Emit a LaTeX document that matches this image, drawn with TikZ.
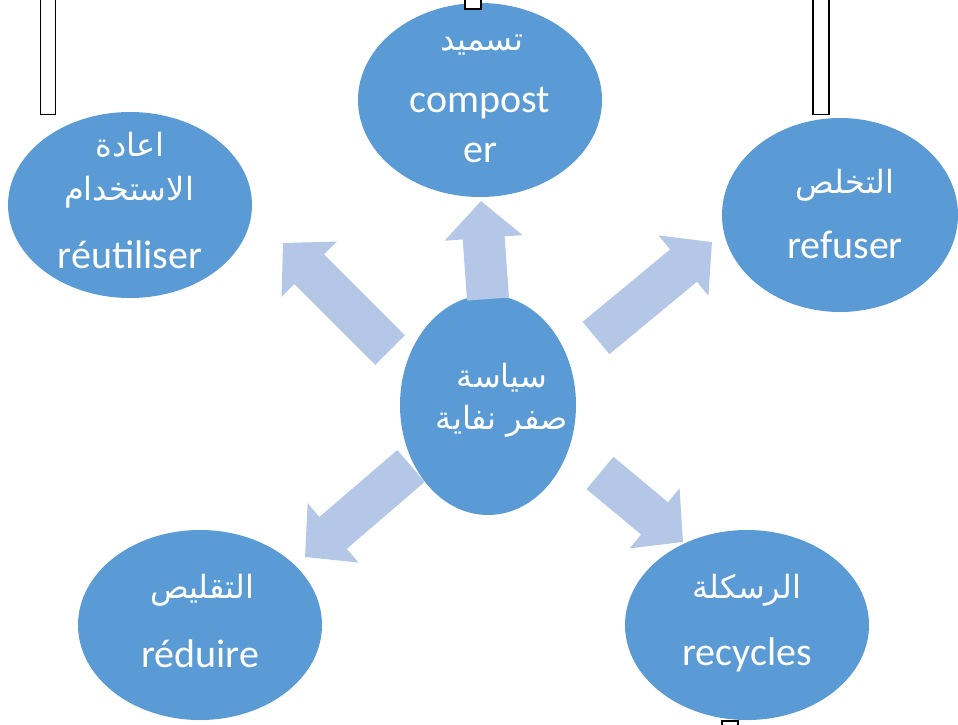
\documentclass[tikz,border=0pt]{standalone}
\usepackage{fontspec}
\setmainfont{Carlito}
\newfontfamily\arabicfont[Script=Arabic]{DejaVu Sans}
\TeXXeTstate=1
\usetikzlibrary{shapes.geometric,arrows.meta}
\definecolor{ellc}{HTML}{5B9BD5}
\definecolor{arrc}{HTML}{B4C7E7}
\tikzset{
  ell/.style={ellipse, fill=ellc, draw=none, inner sep=0pt, minimum width=244pt, minimum height=190pt},
  lat/.style={text=white, font=\fontsize{40}{40}\selectfont, inner sep=0pt},
  ara/.style={text=white, font=\arabicfont\fontsize{32}{32}\selectfont, inner sep=0pt},
  blk/.style={draw=arrc, line width=42pt, -{Triangle[length=37pt,width=76pt]}},
  bar/.style={draw=black, line width=1.6pt, fill=white, inner sep=0pt}
}
\begin{document}
\begin{tikzpicture}[x=1pt,y=-1pt]
\useasboundingbox (0,0) rectangle (958,725);
% ellipses
\node[ell, minimum width=176pt, minimum height=220pt] (c) at (488,405) {};
\node[ell, minimum height=194pt] (top) at (480,100) {};
\node[ell, minimum height=186pt] (left) at (130,205) {};
\node[ell, minimum width=236pt, minimum height=194pt] (right) at (840,215) {};
\node[ell] (bl) at (200,625) {};
\node[ell] (br) at (747,625) {};
% arrow ends
\coordinate (a1s) at (390,350); \coordinate (a1e) at (283,243);
\coordinate (a2s) at (488,299); \coordinate (a2e) at (481,201);
\coordinate (a3s) at (596,338); \coordinate (a3e) at (712,242);
\coordinate (a4s) at (411,466); \coordinate (a4e) at (305,557);
\coordinate (a5s) at (600,473); \coordinate (a5e) at (683,542);
\draw[blk] (a1s) -- (a1e);
\draw[blk] (a2s) -- (a2e);
\draw[blk] (a3s) -- (a3e);
\draw[blk] (a4s) -- (a4e);
\draw[blk] (a5s) -- (a5e);
% texts
\node[ara] (c1) at (502,378) {\beginR سياسة\endR};
\node[ara] (c2) at (502,421) {\beginR صفر نفاية\endR};
\node[ara] (t1) at (482,45) {\beginR تسميد\endR};
\node[lat] (t2) at (480,103) {compost};
\node[lat] (t3) at (480,153) {er};
\node[ara] (l1) at (130,145) {\beginR اعادة\endR};
\node[ara] (l2) at (129,192) {\beginR الاستخدام\endR};
\node[lat] (l3) at (130,255) {réutiliser};
\node[ara] (r1) at (845,185) {\beginR التخلص\endR};
\node[lat] (r2) at (845,245) {refuser};
\node[ara] (b1) at (202,590) {\beginR التقليص\endR};
\node[lat] (b2) at (200,654) {réduire};
\node[ara] (d1) at (747,590) {\beginR الرسكلة\endR};
\node[lat] (d2) at (747,655) {recycles};
% bars
\node[bar, minimum width=15pt, minimum height=125pt] (bar1) at (47.8,52) {};
\node[bar, minimum width=16pt, minimum height=15pt] (bar2) at (473,1.5) {};
\node[bar, minimum width=16pt, minimum height=125pt] (bar3) at (821,52) {};
\node[bar, minimum width=16pt, minimum height=15pt] (bar4) at (730,728.5) {};
\end{tikzpicture}
\end{document}
